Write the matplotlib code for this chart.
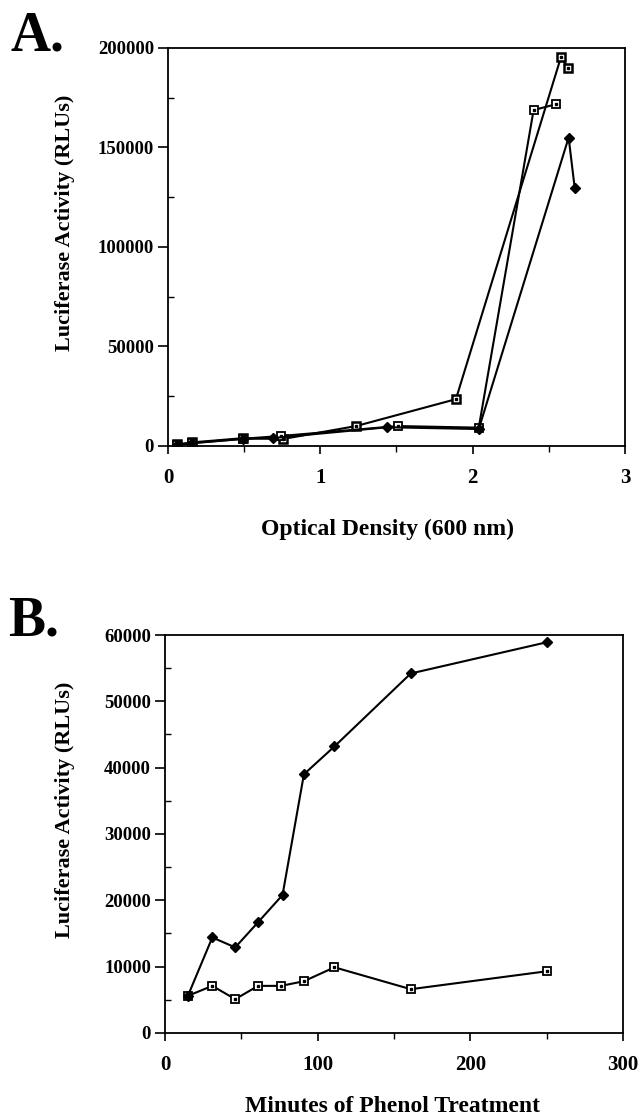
import numpy as np
import matplotlib
matplotlib.use("Agg")
from matplotlib import pyplot as plt
from matplotlib.ticker import MultipleLocator

plt.rcParams['font.family'] = ['Liberation Serif', 'DejaVu Serif']
plt.rcParams['font.weight'] = 'bold'

# ---------------- data, panel A ----------------
od_s1 = [0.06, 0.16, 0.49, 0.755, 1.235, 1.89, 2.58, 2.625]
rlu_s1 = [800, 1800, 3900, 3500, 10000, 23500, 195500, 190000]

od_s2 = [0.06, 0.16, 0.49, 0.74, 1.51, 2.04, 2.40, 2.55]
rlu_s2 = [600, 1500, 3600, 5000, 10000, 9200, 168800, 171800]

od_s3 = [0.06, 0.16, 0.49, 0.69, 1.44, 2.04, 2.63, 2.67]
rlu_s3 = [500, 1400, 3500, 4000, 9400, 8500, 155000, 129500]

# ---------------- data, panel B ----------------
min_dia = [15, 31, 46, 61, 77, 91, 111, 161, 250]
rlu_dia = [5600, 14400, 12900, 16700, 20800, 39000, 43200, 54200, 58900]

min_sq = [15, 31, 46, 61, 76, 91, 111, 161, 250]
rlu_sq = [5600, 7100, 5100, 7100, 7100, 7800, 9900, 6600, 9300]

ylab = 'Luciferase Activity (RLUs)'


def sq_series(ax, x, y, ew=1.3):
    # open square with a dot in the middle
    ax.plot(x, y, color='k', lw=1.5, marker='s', ms=6, mfc='white', mec='k', mew=ew, zorder=3)
    ax.plot(x, y, ls='none', marker='s', ms=1.6, color='k', zorder=4)


def dia_series(ax, x, y):
    ax.plot(x, y, color='k', lw=1.5, marker='D', ms=5, mfc='k', mec='k', zorder=3)


def style(ax):
    for s in ax.spines.values():
        s.set_linewidth(1.3)
    ax.tick_params(axis='y', which='major', direction='out', length=7, width=1.2, pad=3, labelsize=13.5)
    ax.tick_params(axis='y', which='minor', direction='in', length=4, width=1.0)
    ax.tick_params(axis='x', which='major', direction='out', length=6, width=1.2, pad=10, labelsize=15)
    ax.tick_params(axis='x', which='minor', direction='out', length=4, width=1.0)
    ax.tick_params(top=False, right=False, which='both')


fig = plt.figure(figsize=(6.39, 11.16), dpi=100)

# ---------------- panel A ----------------
axA = fig.add_axes([0.2629, 0.6004, 0.7152, 0.3566])
sq_series(axA, od_s1, rlu_s1, ew=1.8)
sq_series(axA, od_s2, rlu_s2)
dia_series(axA, od_s3, rlu_s3)
axA.set_xlim(0, 3)
axA.set_ylim(0, 200000)
axA.xaxis.set_major_locator(MultipleLocator(1))
axA.xaxis.set_minor_locator(MultipleLocator(0.5))
axA.yaxis.set_major_locator(MultipleLocator(50000))
axA.yaxis.set_minor_locator(MultipleLocator(25000))
style(axA)
axA.set_xlabel('Optical Density (600 nm)', fontsize=17, fontweight='bold')
axA.xaxis.set_label_coords(0.48, -0.182)
axA.set_ylabel(ylab, fontsize=16, fontweight='bold')
axA.yaxis.set_label_coords(-0.204, 0.56)
fig.text(0.016, 0.955, 'A.', fontsize=40, fontweight='bold')

# ---------------- panel B ----------------
axB = fig.add_axes([0.2582, 0.0744, 0.7167, 0.3566])
sq_series(axB, min_sq, rlu_sq)
dia_series(axB, min_dia, rlu_dia)
axB.set_xlim(0, 300)
axB.set_ylim(0, 60000)
axB.xaxis.set_major_locator(MultipleLocator(100))
axB.xaxis.set_minor_locator(MultipleLocator(50))
axB.yaxis.set_major_locator(MultipleLocator(10000))
axB.yaxis.set_minor_locator(MultipleLocator(5000))
style(axB)
axB.set_xlabel('Minutes of Phenol Treatment', fontsize=17, fontweight='bold')
axB.xaxis.set_label_coords(0.497, -0.158)
axB.set_ylabel(ylab, fontsize=16, fontweight='bold')
axB.yaxis.set_label_coords(-0.197, 0.56)
fig.text(0.013, 0.431, 'B.', fontsize=40, fontweight='bold')

plt.savefig("out.png", dpi=100)
